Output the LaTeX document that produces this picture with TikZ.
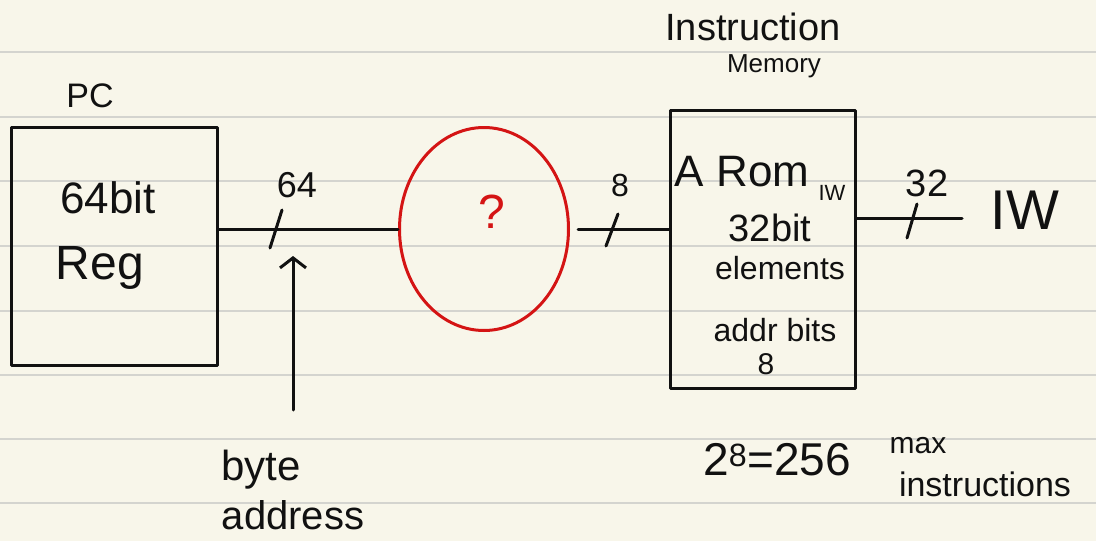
\documentclass[tikz,border=0pt]{standalone}
\usepackage{fontspec}
\setmainfont{Liberation Sans}
\usetikzlibrary{shapes.geometric,arrows.meta}
\definecolor{paper}{HTML}{F8F6EA}
\definecolor{ruling}{HTML}{D4D4CF}
\definecolor{ink}{HTML}{111111}
\definecolor{redink}{HTML}{D41414}
\begin{document}
\begin{tikzpicture}[x=1pt,y=-1pt,
  pen/.style={draw=ink,line width=3pt,line cap=round,line join=round},
  redpen/.style={draw=redink,line width=3pt},
  lbl/.style={text=ink,inner sep=0pt,font=\fontsize{#1}{#1}\selectfont},
  redlbl/.style={text=redink,inner sep=0pt,font=\fontsize{#1}{#1}\selectfont},
  boxnode/.style={pen,rectangle,inner sep=0pt},
  busslash/.style={pen}]
\fill[paper] (0,0) rectangle (1096,541);
\useasboundingbox (0,0) rectangle (1096,541);
\foreach \yy in {52,117,181,246,311,375,439,503}
  \draw[ruling,line width=2pt] (0,\yy) -- (1096,\yy);
% blocks
\node[boxnode,minimum width=206pt,minimum height=238pt] (pc) at (114,246) {};
\node[redpen,ellipse,inner sep=0pt,minimum width=169pt,minimum height=203pt] (q) at (484,229) {};
\node[boxnode,minimum width=185pt,minimum height=278pt] (rom) at (763,249) {};
% labels
\node[lbl=34] (pclbl) at (90,96) {PC};
\node[lbl=44] (bits) at (108,198) {64bit};
\node[lbl=48] (reg) at (100,268) {Reg};
\node[lbl=36] (w64) at (297,185) {64};
\node[redlbl=48] (qm) at (492,212) {?};
\node[lbl=32] (w8) at (620,185) {8};
\node[lbl=44] (arom) at (742,172) {A Rom};
\node[lbl=22] (iwsmall) at (832,193) {IW};
\node[lbl=38] (b32) at (770,228) {32bit};
\node[lbl=32] (elem) at (780,268) {elements};
\node[lbl=32] (addrb) at (775,330) {addr bits};
\node[lbl=30] (ab8) at (766,364) {8};
\node[lbl=38] (w32) at (927,183) {32};
\node[lbl=56] (iw) at (1025,210) {IW};
\node[lbl=38] (instr) at (753,27) {Instruction};
\node[lbl=26] (mem) at (774,66) {Memory};
\node[lbl=46] (pow) at (777,460) {2\textsuperscript{8}=256};
\node[lbl=30] (maxl) at (918,446) {max};
\node[lbl=34] (instrs) at (985,484) {instructions};
\node[lbl=42] (byte) at (261,470) {byte};
\node[lbl=40] (addr) at (293,515) {address};
% connectors
\draw[pen] (pc.east |- q.west) -- (q.west);
\draw[busslash] (270,248) -- (282,210);
\draw[pen] (q.east) ++(8,0) -- (q.east -| rom.west);
\draw[busslash] (606,246) -- (618,214);
\coordinate (iwend) at (962,218);
\draw[pen] (rom.east |- iwend) -- (iwend);
\draw[busslash] (907,238) -- (917,204);
\coordinate (bafoot) at (293,410);
\draw[pen,-{Straight Barb[length=10pt,width=26pt]}] (bafoot) -- (bafoot |- 0,256);
\end{tikzpicture}
\end{document}
